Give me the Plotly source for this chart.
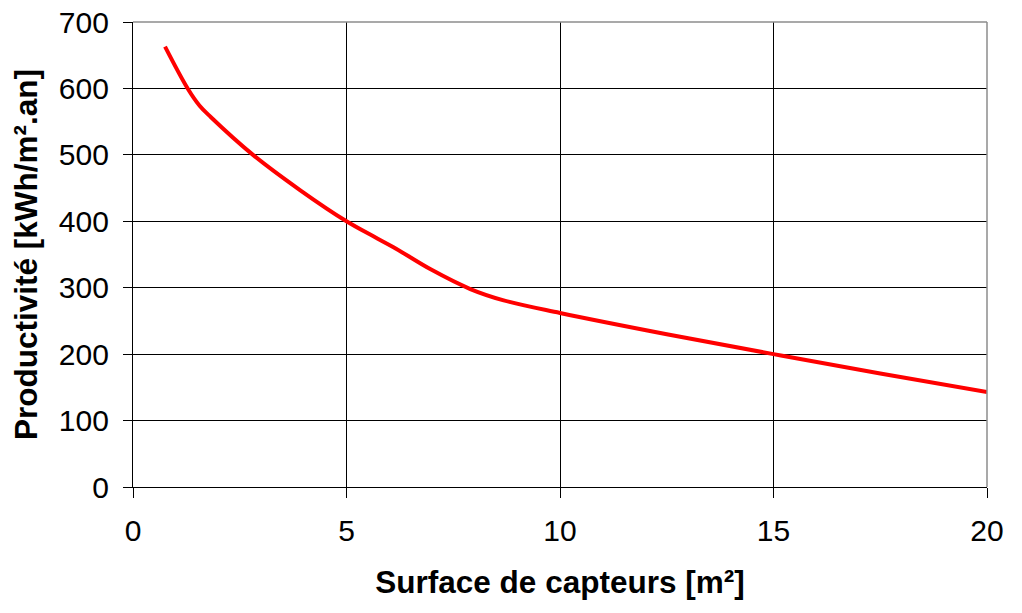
import plotly.graph_objects as go

surface = [0.75, 1.28, 1.56, 1.82, 2.81, 3.91, 5.0, 5.64, 6.1, 6.96, 7.9, 8.68, 10.0, 12.5, 15.0, 17.5, 20.0]
productivite = [663, 600, 574, 557, 500, 447, 400, 377, 361, 328, 298, 281, 262, 230, 200, 171, 143]

fig = go.Figure()
fig.add_trace(go.Scatter(
    x=surface, y=productivite, mode='lines',
    line=dict(color='#ff0000', width=4, shape='spline', smoothing=1.0),
    showlegend=False
))

font = dict(family='Liberation Sans, Arial, sans-serif', size=30, color='black')

# page body adds 8px margin, so size/margins are trimmed to land the plot on the reference
fig.update_layout(
    width=1006, height=597,
    margin=dict(l=125, r=27, t=14, b=118),
    paper_bgcolor='white', plot_bgcolor='white',
    font=font,
    xaxis=dict(
        range=[0, 20], tickvals=[0, 5, 10, 15, 20], showgrid=True,
        gridcolor='black', gridwidth=1.3, zeroline=False,
        showline=True, linecolor='black', linewidth=1.3,
        ticks='outside', ticklen=10, tickcolor='black', tickwidth=1.3,
        ticklabeloverflow='allow', automargin=False, ticklabelstandoff=7,
        title=dict(text='<b>Surface de capteurs [m²]</b>', standoff=24,
                   font=dict(size=31.5)),
    ),
    yaxis=dict(
        range=[0, 700], tickvals=list(range(0, 701, 100)), showgrid=True,
        gridcolor='black', gridwidth=1.3, zeroline=False,
        showline=True, linecolor='black', linewidth=1.3,
        ticks='outside', ticklen=9, tickcolor='black', tickwidth=1.3,
        ticklabeloverflow='allow', automargin=False, ticklabelstandoff=8,
        title=dict(text='<b>Productivité [kWh/m².an]</b>', standoff=12,
                   font=dict(size=31.5)),
    ),
)

# grey frame on top and right, as in the original
fig.add_shape(type='line', xref='paper', yref='paper', x0=0, x1=1, y0=1, y1=1,
              line=dict(color='#8c8c8c', width=1.5))
fig.add_shape(type='line', xref='paper', yref='paper', x0=1, x1=1, y0=0, y1=1,
              line=dict(color='#8c8c8c', width=1.5))

fig.write_html("out.html")
